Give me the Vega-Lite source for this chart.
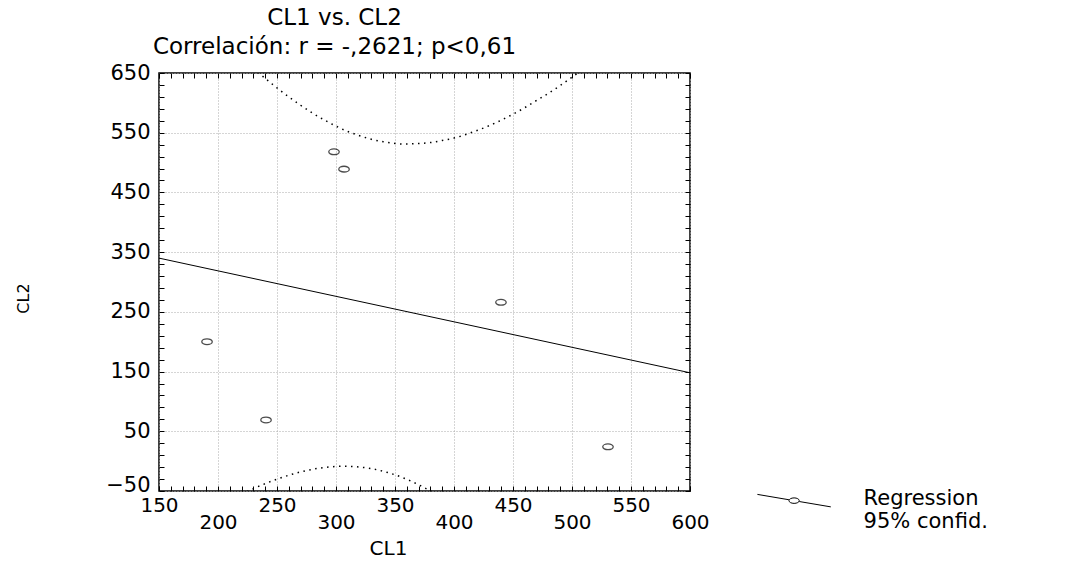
{
  "$schema": "https://vega.github.io/schema/vega-lite/v6.json",
  "width": 531,
  "height": 418,
  "autosize": "none",
  "padding": {"left": 159, "top": 73, "right": 387, "bottom": 71},
  "background": "white",
  "config": {
    "view": {"stroke": "black", "strokeWidth": 1.5},
    "font": "DejaVu Sans",
    "axis": {"domain": false, "labelFont": "DejaVu Sans", "titleFont": "DejaVu Sans", "labelColor": "black", "titleColor": "black", "tickColor": "black", "titleFontWeight": "normal"}
  },
  "title": {
    "text": ["CL1 vs. CL2", "Correlación: r = -,2621; p<0,61"],
    "font": "DejaVu Sans",
    "fontSize": 23,
    "fontWeight": "normal",
    "color": "black",
    "lineHeight": 29,
    "anchor": "middle",
    "dx": -90,
    "offset": 3
  },
  "datasets": {
    "pts": [
      {"CL1": 190.7, "CL2": 200},
      {"CL1": 240.7, "CL2": 69},
      {"CL1": 298.3, "CL2": 518},
      {"CL1": 306.8, "CL2": 489},
      {"CL1": 439.8, "CL2": 266},
      {"CL1": 530.5, "CL2": 24}
    ],
    "reg": [
      {"CL1": 150, "CL2": 340},
      {"CL1": 600, "CL2": 148}
    ],
    "conf": [
      {"band": "upper", "CL1": 230, "CL2": 658},
      {"band": "upper", "CL1": 240, "CL2": 641},
      {"band": "upper", "CL1": 250, "CL2": 625},
      {"band": "upper", "CL1": 260, "CL2": 610},
      {"band": "upper", "CL1": 270, "CL2": 596},
      {"band": "upper", "CL1": 280, "CL2": 583},
      {"band": "upper", "CL1": 290, "CL2": 571.5},
      {"band": "upper", "CL1": 300, "CL2": 561},
      {"band": "upper", "CL1": 310, "CL2": 552},
      {"band": "upper", "CL1": 320, "CL2": 545},
      {"band": "upper", "CL1": 330, "CL2": 539},
      {"band": "upper", "CL1": 340, "CL2": 535},
      {"band": "upper", "CL1": 350, "CL2": 532},
      {"band": "upper", "CL1": 360, "CL2": 531},
      {"band": "upper", "CL1": 370, "CL2": 532},
      {"band": "upper", "CL1": 380, "CL2": 533.5},
      {"band": "upper", "CL1": 390, "CL2": 537},
      {"band": "upper", "CL1": 400, "CL2": 541},
      {"band": "upper", "CL1": 410, "CL2": 547},
      {"band": "upper", "CL1": 420, "CL2": 554},
      {"band": "upper", "CL1": 430, "CL2": 562},
      {"band": "upper", "CL1": 440, "CL2": 571},
      {"band": "upper", "CL1": 450, "CL2": 581},
      {"band": "upper", "CL1": 460, "CL2": 592},
      {"band": "upper", "CL1": 470, "CL2": 604},
      {"band": "upper", "CL1": 480, "CL2": 616},
      {"band": "upper", "CL1": 490, "CL2": 629},
      {"band": "upper", "CL1": 500, "CL2": 643},
      {"band": "upper", "CL1": 510, "CL2": 657},
      {"band": "lower", "CL1": 220, "CL2": -55.2},
      {"band": "lower", "CL1": 230, "CL2": -46.1},
      {"band": "lower", "CL1": 240, "CL2": -37.7},
      {"band": "lower", "CL1": 250, "CL2": -30.2},
      {"band": "lower", "CL1": 260, "CL2": -23.6},
      {"band": "lower", "CL1": 270, "CL2": -18.1},
      {"band": "lower", "CL1": 280, "CL2": -13.7},
      {"band": "lower", "CL1": 290, "CL2": -10.7},
      {"band": "lower", "CL1": 300, "CL2": -8.9},
      {"band": "lower", "CL1": 310, "CL2": -8.6},
      {"band": "lower", "CL1": 320, "CL2": -9.9},
      {"band": "lower", "CL1": 330, "CL2": -12.6},
      {"band": "lower", "CL1": 340, "CL2": -17.0},
      {"band": "lower", "CL1": 350, "CL2": -22.9},
      {"band": "lower", "CL1": 360, "CL2": -30.4},
      {"band": "lower", "CL1": 370, "CL2": -39.5},
      {"band": "lower", "CL1": 380, "CL2": -49.9},
      {"band": "lower", "CL1": 390, "CL2": -61.8}
    ]
  },
  "resolve": {"axis": {"x": "independent", "y": "independent"}},
  "layer": [
    {
      "data": {"name": "conf"},
      "mark": {"type": "line", "clip": true, "color": "black", "strokeWidth": 1.5, "strokeDash": [1.5, 4.5], "interpolate": "natural"},
      "encoding": {
        "x": {"field": "CL1", "type": "quantitative", "scale": {"domain": [150, 600], "nice": false, "zero": false}, "axis": null},
        "y": {"field": "CL2", "type": "quantitative", "scale": {"domain": [-50, 650], "nice": false, "zero": false}, "axis": null},
        "detail": {"field": "band"}
      }
    },
    {
      "data": {"name": "pts"},
      "mark": {"type": "point", "filled": false, "color": "black", "strokeWidth": 1.3, "size": 110, "shape": "M-1,0A1,0.55 0 1,0 1,0A1,0.55 0 1,0 -1,0Z"},
      "encoding": {
        "x": {
          "field": "CL1", "type": "quantitative",
          "scale": {"domain": [150, 600], "nice": false, "zero": false},
          "axis": {
            "orient": "bottom",
            "title": "CL1",
            "titleFontSize": 20,
            "titleX": 229,
            "titleY": 57,
            "titleBaseline": "middle",
            "titleAlign": "center",
            "values": [150,160,170,180,190,200,210,220,230,240,250,260,270,280,290,300,310,320,330,340,350,360,370,380,390,400,410,420,430,440,450,460,470,480,490,500,510,520,530,540,550,560,570,580,590,600],
            "labelExpr": "datum.value % 50 === 0 ? datum.label : ''",
            "labelFontSize": 20,
            "labelOverlap": false,
            "labelFlush": false,
            "labelPadding": {"condition": {"test": "datum.value % 100 === 0", "value": 26}, "value": 9},
            "tickSize": -5,
            "tickWidth": 1,
            "grid": true,
            "gridColor": "#aaaaaa",
            "gridDash": [1, 2],
            "gridOpacity": {"condition": {"test": "datum.value % 50 === 0", "value": 1}, "value": 0}
          }
        },
        "y": {
          "field": "CL2", "type": "quantitative",
          "scale": {"domain": [-50, 650], "nice": false, "zero": false},
          "axis": {
            "orient": "left",
            "title": "CL2",
            "titleFontSize": 16,
            "titleX": -136,
            "titleY": 225,
            "titleAlign": "center",
            "titleBaseline": "middle",
            "values": [-50,-30,-10,10,30,50,70,90,110,130,150,170,190,210,230,250,270,290,310,330,350,370,390,410,430,450,470,490,510,530,550,570,590,610,630,650],
            "labelExpr": "(datum.value + 50) % 100 === 0 ? datum.label : ''",
            "labelFontSize": 21,
            "labelOverlap": false,
            "labelFlush": false,
            "labelPadding": 14,
            "labelOffset": {"condition": {"test": "datum.value === -50", "value": -6}, "value": 0},
            "tickSize": -5,
            "tickWidth": 1,
            "grid": true,
            "gridColor": "#aaaaaa",
            "gridDash": [1, 2],
            "gridOpacity": {"condition": {"test": "(datum.value + 50) % 100 === 0", "value": 1}, "value": 0}
          }
        }
      }
    },
    {
      "data": {"name": "reg"},
      "mark": {"type": "line", "strokeWidth": 1},
      "encoding": {
        "x": {
          "field": "CL1", "type": "quantitative",
          "scale": {"domain": [150, 600], "nice": false, "zero": false},
          "axis": {
            "orient": "top", "title": null, "labels": false, "grid": false, "domain": false,
            "values": [150,160,170,180,190,200,210,220,230,240,250,260,270,280,290,300,310,320,330,340,350,360,370,380,390,400,410,420,430,440,450,460,470,480,490,500,510,520,530,540,550,560,570,580,590,600],
            "tickSize": -5, "tickWidth": 1
          }
        },
        "y": {
          "field": "CL2", "type": "quantitative",
          "scale": {"domain": [-50, 650], "nice": false, "zero": false},
          "axis": {
            "orient": "right", "title": null, "labels": false, "grid": false, "domain": false,
            "values": [-50,-30,-10,10,30,50,70,90,110,130,150,170,190,210,230,250,270,290,310,330,350,370,390,410,430,450,470,490,510,530,550,570,590,610,630,650],
            "tickSize": -5, "tickWidth": 1
          }
        },
        "color": {
          "datum": "Regression",
          "scale": {"range": ["black"]},
          "legend": {
            "orient": "none",
            "legendX": 597.6,
            "legendY": 388.3,
            "title": null,
            "padding": 0,
            "symbolType": "M-1,-0.12L-0.14,0.026M0.14,0.074L1,0.22M-0.14,0.05A0.14,0.075 0 1,0 0.14,0.05A0.14,0.075 0 1,0 -0.14,0.05Z",
            "symbolSize": 5388,
            "symbolStrokeWidth": 1,
            "symbolStrokeColor": "black",
            "symbolFillColor": "transparent",
            "labelExpr": "['Regression', '95% confid.']",
            "labelFont": "DejaVu Sans",
            "labelFontSize": 21,
            "labelColor": "black",
            "labelOffset": 32,
            "labelLimit": 400
          }
        }
      }
    }
  ]
}
